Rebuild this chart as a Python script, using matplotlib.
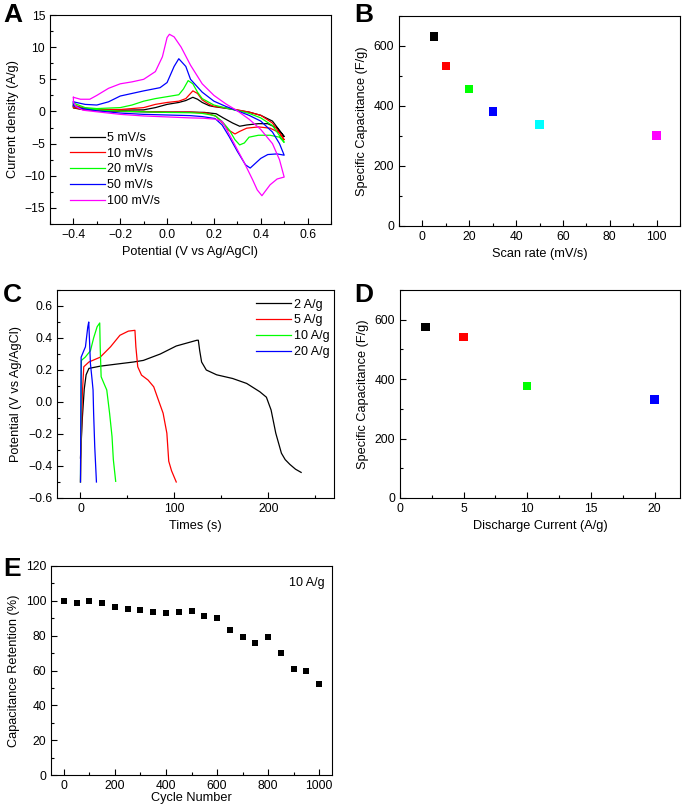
import matplotlib
matplotlib.use("Agg")
import matplotlib.pyplot as plt
from matplotlib.ticker import MultipleLocator

plt.rcParams['font.family'] = ['Liberation Sans', 'DejaVu Sans']
plt.rcParams['font.size'] = 8

# ---- Panel A: CV curves (potential V, current density A/g), forward + reverse sweep
cv_labels = ["5 mV/s", "10 mV/s", "20 mV/s", "50 mV/s", "100 mV/s"]
cv_colors = ["black", "red", "lime", "blue", "magenta"]

cv5_v = [-0.40, -0.35, -0.30, -0.20, -0.10, -0.05, 0.00, 0.05, 0.08, 0.11, 0.13, 0.15, 0.18, 0.20, 0.25,
         0.30, 0.35, 0.40, 0.45, 0.50,
         0.50, 0.47, 0.43, 0.39, 0.34, 0.31, 0.28, 0.24, 0.21, 0.16, 0.10, 0.00, -0.10, -0.20, -0.30, -0.37,
         -0.40, -0.40]
cv5_i = [0.8, 0.4, 0.3, 0.2, 0.25, 0.6, 1.1, 1.4, 1.7, 2.2, 1.9, 1.4, 0.9, 0.75, 0.5,
         0.2, -0.1, -0.6, -1.5, -3.9,
         -3.9, -2.6, -1.9, -1.9, -2.1, -2.3, -1.8, -1.0, -0.36, -0.15, -0.1, -0.1, -0.05, 0.0, 0.15, 0.35,
         0.55, 0.8]

cv10_v = [-0.40, -0.35, -0.30, -0.20, -0.10, -0.05, 0.00, 0.05, 0.08, 0.10, 0.11, 0.13, 0.15, 0.18, 0.20,
          0.25, 0.30, 0.35, 0.40, 0.45, 0.50,
          0.50, 0.48, 0.44, 0.39, 0.34, 0.31, 0.29, 0.26, 0.24, 0.21, 0.17, 0.10, 0.00, -0.10, -0.20, -0.30,
          -0.37, -0.40, -0.40]
cv10_i = [1.0, 0.5, 0.3, 0.3, 0.6, 1.1, 1.4, 1.6, 2.0, 2.8, 3.2, 2.8, 1.8, 1.1, 0.8,
          0.55, 0.25, -0.1, -0.6, -1.8, -4.4,
          -4.4, -3.3, -2.6, -2.4, -2.6, -3.1, -3.5, -2.85, -1.9, -0.78, -0.25, -0.1, -0.1, 0.0, 0.05, 0.2,
          0.4, 0.6, 1.0]

cv20_v = [-0.40, -0.35, -0.30, -0.20, -0.15, -0.10, -0.05, 0.00, 0.05, 0.07, 0.09, 0.11, 0.13, 0.15, 0.20,
          0.25, 0.30, 0.35, 0.40, 0.45, 0.50,
          0.50, 0.48, 0.44, 0.39, 0.35, 0.33, 0.31, 0.29, 0.265, 0.235, 0.205, 0.15, 0.10, 0.00, -0.10,
          -0.20, -0.30, -0.37, -0.40, -0.40]
cv20_i = [1.3, 0.6, 0.45, 0.6, 1.0, 1.6, 2.0, 2.3, 2.6, 3.5, 4.8, 4.3, 3.0, 2.0, 1.0,
          0.55, 0.15, -0.3, -1.0, -2.2, -4.8,
          -4.8, -4.0, -3.7, -3.7, -4.0, -4.9, -5.2, -4.4, -2.85, -1.55, -0.65, -0.3, -0.2, -0.15, -0.05,
          0.05, 0.25, 0.5, 0.9, 1.3]

cv50_v = [-0.40, -0.35, -0.30, -0.25, -0.20, -0.10, -0.03, 0.00, 0.03, 0.05, 0.08, 0.10, 0.15, 0.20, 0.25,
          0.30, 0.35, 0.40, 0.45, 0.48, 0.50,
          0.50, 0.47, 0.43, 0.40, 0.37, 0.355, 0.335, 0.30, 0.265, 0.235, 0.205, 0.15, 0.10, 0.00, -0.10,
          -0.20, -0.30, -0.37, -0.40, -0.40]
cv50_i = [1.5, 1.1, 1.0, 1.5, 2.4, 3.2, 3.7, 4.5, 7.0, 8.2, 7.0, 5.0, 3.0, 1.6, 0.8,
          0.1, -0.6, -1.5, -3.2, -5.0, -6.8,
          -6.8, -6.6, -6.7, -7.3, -8.3, -8.8, -8.3, -6.2, -3.9, -2.1, -1.1, -0.8, -0.65, -0.55, -0.45,
          -0.25, 0.1, 0.5, 0.9, 1.5]

cv100_v = [-0.40, -0.37, -0.33, -0.30, -0.25, -0.20, -0.15, -0.10, -0.05, -0.02, 0.00, 0.01, 0.03, 0.06,
           0.10, 0.15, 0.20, 0.25, 0.30, 0.35, 0.40, 0.45, 0.48, 0.50,
           0.50, 0.47, 0.44, 0.405, 0.385, 0.365, 0.33, 0.285, 0.255, 0.235, 0.205, 0.155, 0.10, 0.00,
           -0.10, -0.20, -0.30, -0.36, -0.39, -0.40, -0.40]
cv100_i = [2.2, 1.9, 1.9, 2.5, 3.6, 4.3, 4.6, 5.0, 6.2, 8.5, 11.5, 12.0, 11.6, 10.0,
           7.2, 4.3, 2.5, 1.2, 0.1, -1.2, -2.8, -5.0, -7.5, -10.2,
           -10.2, -10.5, -11.4, -13.1, -12.2, -10.6, -8.0, -4.9, -2.85, -1.55, -1.2, -1.05, -1.0, -0.85,
           -0.7, -0.45, -0.05, 0.2, 0.8, 1.4, 2.2]

# ---- Panel B: specific capacitance vs scan rate
scan_rate = [5, 10, 20, 30, 50, 100]
cap_scan = [632, 533, 456, 382, 338, 302]
scan_colors = ["black", "red", "lime", "blue", "cyan", "magenta"]

# ---- Panel C: charge/discharge curves
gcd_labels = ["2 A/g", "5 A/g", "10 A/g", "20 A/g"]
gcd_colors = ["black", "red", "lime", "blue"]
gcd2_t = [0, 2, 4, 6, 9, 21, 40, 56.5, 67, 85, 102, 124, 125.5, 127, 129, 134, 145, 162, 177, 191, 198,
          203, 208, 214, 218, 223, 229, 235]
gcd2_v = [-0.35, -0.1, 0.08, 0.17, 0.21, 0.224, 0.238, 0.25, 0.26, 0.30, 0.35, 0.386, 0.386, 0.32, 0.25,
          0.20, 0.17, 0.147, 0.116, 0.064, 0.03, -0.05, -0.195, -0.32, -0.36, -0.39, -0.42, -0.44]
gcd5_t = [0, 1, 2, 3.5, 9, 21, 32, 42, 51, 58, 59, 61, 65, 72, 78, 83, 88, 92, 94, 97, 102]
gcd5_v = [-0.5, -0.2, 0.05, 0.22, 0.25, 0.28, 0.345, 0.417, 0.443, 0.448, 0.345, 0.22, 0.168, 0.137,
          0.095, 0.012, -0.07, -0.195, -0.37, -0.43, -0.5]
gcd10_t = [0, 1, 5, 10.6, 14, 17.7, 20.5, 21, 22, 25, 28, 31, 33.6, 35, 37.5]
gcd10_v = [-0.5, 0.26, 0.28, 0.32, 0.40, 0.47, 0.494, 0.345, 0.158, 0.116, 0.075, -0.07, -0.216, -0.36,
           -0.496]
gcd20_t = [0, 0.7, 3.5, 5.3, 7.8, 8.8, 9.9, 10.6, 12.4, 13.4, 14, 15.2, 17]
gcd20_v = [-0.5, 0.28, 0.32, 0.345, 0.47, 0.5, 0.345, 0.24, 0.137, 0.075, -0.07, -0.28, -0.5]

# ---- Panel D: specific capacitance vs discharge current
current = [2, 5, 10, 20]
cap_current = [575, 541, 376, 331]

# ---- Panel E: cycling stability
cycles = [0, 50, 100, 150, 200, 250, 300, 350, 400, 450, 500, 550, 600, 650, 700, 750, 800, 850, 900,
          950, 1000]
retention = [100, 98.5, 100, 99, 96.5, 95.5, 95, 93.5, 93, 93.5, 94, 91.5, 90, 83.5, 79, 76, 79, 70, 61,
             60, 52.5]

W, H = 685, 810
LABEL_FS = 9.2
fig = plt.figure(figsize=(W / 100, H / 100), dpi=100)


def add_ax(x0, y0, x1, y1):
    # pixel box (left, top, right, bottom) -> figure fraction
    return fig.add_axes([x0 / W, 1 - y1 / H, (x1 - x0) / W, (y1 - y0) / H])


def style(ax, xmaj, xmin, ymaj, ymin):
    ax.xaxis.set_major_locator(MultipleLocator(xmaj))
    ax.xaxis.set_minor_locator(MultipleLocator(xmin))
    ax.yaxis.set_major_locator(MultipleLocator(ymaj))
    ax.yaxis.set_minor_locator(MultipleLocator(ymin))
    ax.tick_params(which='both', direction='in', top=False, right=False, labelsize=8.7)
    ax.tick_params(which='major', length=4, width=0.8)
    ax.tick_params(which='minor', length=2, width=0.8)
    for s in ax.spines.values():
        s.set_linewidth(0.8)


# A
axA = add_ax(50, 15, 331, 224)
cv_data = [(cv5_v, cv5_i), (cv10_v, cv10_i), (cv20_v, cv20_i), (cv50_v, cv50_i), (cv100_v, cv100_i)]
for (v, i), c, lab in zip(cv_data, cv_colors, cv_labels):
    axA.plot(v, i, color=c, lw=0.9, label=lab)
axA.set_xlim(-0.5, 0.7)
axA.set_ylim(-17.5, 15)
style(axA, 0.2, 0.1, 5, 2.5)
axA.set_xlabel("Potential (V vs Ag/AgCl)", fontsize=LABEL_FS)
axA.set_ylabel("Current density (A/g)", fontsize=LABEL_FS)
axA.legend(loc='lower left', bbox_to_anchor=(0.04, 0.04), frameon=False, fontsize=9,
           handlelength=2.8, labelspacing=0.3, handletextpad=0.2, borderpad=0.2)

# B
axB = add_ax(399, 16, 680, 226)
axB.scatter(scan_rate, cap_scan, c=scan_colors, marker='s', s=36, linewidths=0)
axB.set_xlim(-10, 110)
axB.set_ylim(0, 700)
style(axB, 20, 10, 200, 100)
axB.set_xlabel("Scan rate (mV/s)", fontsize=LABEL_FS)
axB.set_ylabel("Specific Capacitance (F/g)", fontsize=LABEL_FS)

# C
axC = add_ax(57, 290, 334, 498)
gcd_data = [(gcd2_t, gcd2_v), (gcd5_t, gcd5_v), (gcd10_t, gcd10_v), (gcd20_t, gcd20_v)]
for (t, v), c, lab in zip(gcd_data, gcd_colors, gcd_labels):
    axC.plot(t, v, color=c, lw=0.9, label=lab)
axC.set_xlim(-25, 270)
axC.set_ylim(-0.6, 0.7)
style(axC, 100, 50, 0.2, 0.1)
axC.set_xlabel("Times (s)", fontsize=LABEL_FS)
axC.set_ylabel("Potential (V vs Ag/AgCl)", fontsize=LABEL_FS)
axC.legend(loc='upper right', bbox_to_anchor=(1.015, 1.0), frameon=False, fontsize=9,
           handlelength=2.8, labelspacing=0.3, handletextpad=0.2, borderpad=0.2)

# D
axD = add_ax(400, 290, 680, 498)
axD.scatter(current, cap_current, c=gcd_colors, marker='s', s=36, linewidths=0)
axD.set_xlim(0, 22)
axD.set_ylim(0, 700)
style(axD, 5, 2.5, 200, 100)
axD.set_xlabel("Discharge Current (A/g)", fontsize=LABEL_FS)
axD.set_ylabel("Specific Capacitance (F/g)", fontsize=LABEL_FS)

# E
axE = add_ax(51, 566, 332, 775)
axE.scatter(cycles, retention, color='black', marker='s', s=22, linewidths=0)
axE.set_xlim(-50, 1050)
axE.set_ylim(0, 120)
style(axE, 200, 100, 20, 10)
axE.set_xlabel("Cycle Number", fontsize=LABEL_FS, labelpad=0)
axE.set_ylabel("Capacitance Retention (%)", fontsize=LABEL_FS)
axE.text(0.975, 0.945, "10 A/g", transform=axE.transAxes, ha='right', va='top', fontsize=9)

# panel letters
for lab, x, y in [("A", 3, 3), ("B", 354, 3), ("C", 3, 283), ("D", 354, 283), ("E", 3, 557)]:
    fig.text(x / W, 1 - y / H, lab, fontsize=19, fontweight='bold', ha='left', va='top')

fig.savefig("out.png", dpi=100)
